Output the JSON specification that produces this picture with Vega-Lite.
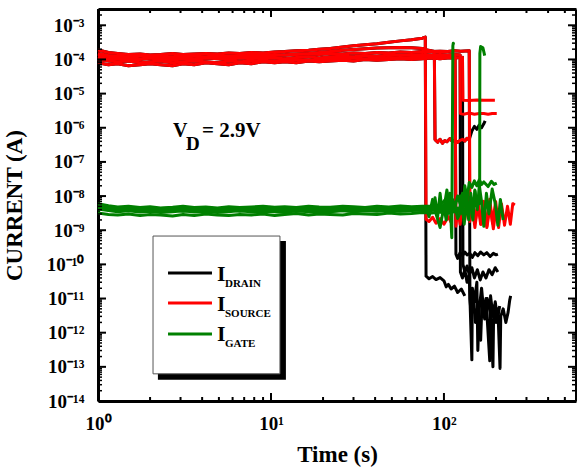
{
  "$schema": "https://vega.github.io/schema/vega-lite/v6.json",
  "width": 478,
  "height": 392,
  "autosize": {"type": "none"},
  "padding": {"left": 98, "top": 9, "right": 1, "bottom": 68},
  "background": "white",
  "config": {
    "view": {"stroke": null},
    "axis": {
      "domainColor": "black", "domainWidth": 3,
      "labelFont": "Liberation Serif", "labelFontWeight": "bold", "labelFontSize": 19, "labelColor": "black",
      "titleFont": "Liberation Serif", "titleFontWeight": "bold", "titleFontSize": 23, "titleColor": "black",
      "grid": false, "labelOverlap": false, "labelFlush": false
    }
  },
  "datasets": {
    "xmajor": [{"t":1},{"t":10},{"t":100}],
    "xminor": [
      {"t":2},{"t":3},{"t":4},{"t":5},{"t":6},{"t":7},{"t":8},{"t":9},
      {"t":20},{"t":30},{"t":40},{"t":50},{"t":60},{"t":70},{"t":80},{"t":90},
      {"t":200},{"t":300},{"t":400},{"t":500}
    ],
    "ymajor": [
      {"i":1e-14},{"i":1e-13},{"i":1e-12},{"i":1e-11},{"i":1e-10},{"i":1e-9},
      {"i":1e-8},{"i":1e-7},{"i":1e-6},{"i":1e-5},{"i":1e-4},{"i":1e-3}
    ],
    "yminor": [
      {"i":2e-14},{"i":3e-14},{"i":4e-14},{"i":5e-14},{"i":6e-14},{"i":7e-14},{"i":8e-14},{"i":9e-14},
      {"i":2e-13},{"i":3e-13},{"i":4e-13},{"i":5e-13},{"i":6e-13},{"i":7e-13},{"i":8e-13},{"i":9e-13},
      {"i":2e-12},{"i":3e-12},{"i":4e-12},{"i":5e-12},{"i":6e-12},{"i":7e-12},{"i":8e-12},{"i":9e-12},
      {"i":2e-11},{"i":3e-11},{"i":4e-11},{"i":5e-11},{"i":6e-11},{"i":7e-11},{"i":8e-11},{"i":9e-11},
      {"i":2e-10},{"i":3e-10},{"i":4e-10},{"i":5e-10},{"i":6e-10},{"i":7e-10},{"i":8e-10},{"i":9e-10},
      {"i":2e-9},{"i":3e-9},{"i":4e-9},{"i":5e-9},{"i":6e-9},{"i":7e-9},{"i":8e-9},{"i":9e-9},
      {"i":2e-8},{"i":3e-8},{"i":4e-8},{"i":5e-8},{"i":6e-8},{"i":7e-8},{"i":8e-8},{"i":9e-8},
      {"i":2e-7},{"i":3e-7},{"i":4e-7},{"i":5e-7},{"i":6e-7},{"i":7e-7},{"i":8e-7},{"i":9e-7},
      {"i":2e-6},{"i":3e-6},{"i":4e-6},{"i":5e-6},{"i":6e-6},{"i":7e-6},{"i":8e-6},{"i":9e-6},
      {"i":2e-5},{"i":3e-5},{"i":4e-5},{"i":5e-5},{"i":6e-5},{"i":7e-5},{"i":8e-5},{"i":9e-5},
      {"i":2e-4},{"i":3e-4},{"i":4e-4},{"i":5e-4},{"i":6e-4},{"i":7e-4},{"i":8e-4},{"i":9e-4},
      {"i":2e-3}
    ]
  },
  "data": {
    "values": [
      {"run":1,"t":1,"source":1.9e-4,"drain":1.9e-4,"gate":5.5e-9},
      {"run":1,"t":1.15,"source":1.6e-4,"drain":1.6e-4,"gate":4.8e-9},
      {"run":1,"t":1.3,"source":1.5e-4,"drain":1.5e-4,"gate":4.2e-9},
      {"run":1,"t":1.5,"source":1.4e-4,"drain":1.4e-4,"gate":4.5e-9},
      {"run":1,"t":1.75,"source":1.45e-4,"drain":1.45e-4,"gate":4.0e-9},
      {"run":1,"t":2,"source":1.35e-4,"drain":1.35e-4,"gate":4.3e-9},
      {"run":1,"t":2.3,"source":1.4e-4,"drain":1.4e-4,"gate":3.9e-9},
      {"run":1,"t":2.7,"source":1.5e-4,"drain":1.5e-4,"gate":4.2e-9},
      {"run":1,"t":3.1,"source":1.4e-4,"drain":1.4e-4,"gate":4.0e-9},
      {"run":1,"t":3.6,"source":1.45e-4,"drain":1.45e-4,"gate":4.4e-9},
      {"run":1,"t":4.2,"source":1.5e-4,"drain":1.5e-4,"gate":3.8e-9},
      {"run":1,"t":4.9,"source":1.45e-4,"drain":1.45e-4,"gate":4.1e-9},
      {"run":1,"t":5.7,"source":1.55e-4,"drain":1.55e-4,"gate":4.3e-9},
      {"run":1,"t":6.6,"source":1.5e-4,"drain":1.5e-4,"gate":3.9e-9},
      {"run":1,"t":7.7,"source":1.6e-4,"drain":1.6e-4,"gate":4.2e-9},
      {"run":1,"t":9,"source":1.55e-4,"drain":1.55e-4,"gate":4.0e-9},
      {"run":1,"t":10.5,"source":1.65e-4,"drain":1.65e-4,"gate":4.4e-9},
      {"run":1,"t":12,"source":1.7e-4,"drain":1.7e-4,"gate":4.1e-9},
      {"run":1,"t":14,"source":1.8e-4,"drain":1.8e-4,"gate":3.9e-9},
      {"run":1,"t":16.5,"source":1.85e-4,"drain":1.85e-4,"gate":4.3e-9},
      {"run":1,"t":19,"source":2.0e-4,"drain":2.0e-4,"gate":4.0e-9},
      {"run":1,"t":22,"source":2.1e-4,"drain":2.1e-4,"gate":4.2e-9},
      {"run":1,"t":26,"source":2.3e-4,"drain":2.3e-4,"gate":4.5e-9},
      {"run":1,"t":30,"source":2.5e-4,"drain":2.5e-4,"gate":4.1e-9},
      {"run":1,"t":35,"source":2.7e-4,"drain":2.7e-4,"gate":4.3e-9},
      {"run":1,"t":41,"source":2.9e-4,"drain":2.9e-4,"gate":4.0e-9},
      {"run":1,"t":48,"source":3.2e-4,"drain":3.2e-4,"gate":4.4e-9},
      {"run":1,"t":56,"source":3.5e-4,"drain":3.5e-4,"gate":4.2e-9},
      {"run":1,"t":65,"source":3.8e-4,"drain":3.8e-4,"gate":4.5e-9},
      {"run":1,"t":75,"source":4.2e-4,"drain":4.2e-4,"gate":4.3e-9},
      {"run":1,"t":78,"source":4.5e-4,"drain":4.5e-4,"gate":4.4e-9},
      {"run":1,"t":78.8,"source":2.1e-9,"drain":4.5e-11,"gate":5e-9},
      {"run":1,"t":82,"source":1.8e-9,"drain":3.8e-11,"gate":2.5e-9},
      {"run":1,"t":86,"source":2.4e-9,"drain":4.4e-11,"gate":8e-9},
      {"run":1,"t":90,"source":1.6e-9,"drain":3.6e-11,"gate":3e-9},
      {"run":1,"t":95,"source":2.2e-9,"drain":4.1e-11,"gate":1.2e-9},
      {"run":1,"t":100,"source":1.5e-9,"drain":3.3e-11,"gate":5e-9},
      {"run":1,"t":103,"drain":2.2e-11,"gate":2e-9},
      {"run":1,"t":106,"source":2.5e-9,"drain":2.6e-11,"gate":9e-9},
      {"run":1,"t":110,"source":1.7e-9,"drain":1.9e-11,"gate":3e-9},
      {"run":1,"t":115,"drain":2.3e-11,"gate":6e-9},
      {"run":1,"t":120,"drain":1.5e-11,"gate":2.2e-9},
      {"run":1,"t":126,"drain":1.9e-11,"gate":4e-9},
      {"run":1,"t":132,"drain":1.2e-11},

      {"run":2,"t":1,"source":1.4e-4,"drain":1.4e-4,"gate":4.2e-9},
      {"run":2,"t":1.15,"source":1.2e-4,"drain":1.2e-4,"gate":3.8e-9},
      {"run":2,"t":1.3,"source":1.1e-4,"drain":1.1e-4,"gate":3.5e-9},
      {"run":2,"t":1.5,"source":1.15e-4,"drain":1.15e-4,"gate":3.7e-9},
      {"run":2,"t":1.75,"source":1.05e-4,"drain":1.05e-4,"gate":3.4e-9},
      {"run":2,"t":2,"source":1.1e-4,"drain":1.1e-4,"gate":3.6e-9},
      {"run":2,"t":2.3,"source":1.0e-4,"drain":1.0e-4,"gate":3.3e-9},
      {"run":2,"t":2.7,"source":1.1e-4,"drain":1.1e-4,"gate":3.5e-9},
      {"run":2,"t":3.1,"source":1.15e-4,"drain":1.15e-4,"gate":3.7e-9},
      {"run":2,"t":3.6,"source":1.05e-4,"drain":1.05e-4,"gate":3.4e-9},
      {"run":2,"t":4.2,"source":1.1e-4,"drain":1.1e-4,"gate":3.6e-9},
      {"run":2,"t":4.9,"source":1.2e-4,"drain":1.2e-4,"gate":3.3e-9},
      {"run":2,"t":5.7,"source":1.1e-4,"drain":1.1e-4,"gate":3.5e-9},
      {"run":2,"t":6.6,"source":1.15e-4,"drain":1.15e-4,"gate":3.8e-9},
      {"run":2,"t":7.7,"source":1.2e-4,"drain":1.2e-4,"gate":3.4e-9},
      {"run":2,"t":9,"source":1.25e-4,"drain":1.25e-4,"gate":3.6e-9},
      {"run":2,"t":10.5,"source":1.3e-4,"drain":1.3e-4,"gate":3.5e-9},
      {"run":2,"t":12,"source":1.35e-4,"drain":1.35e-4,"gate":3.3e-9},
      {"run":2,"t":14,"source":1.45e-4,"drain":1.45e-4,"gate":3.7e-9},
      {"run":2,"t":16.5,"source":1.5e-4,"drain":1.5e-4,"gate":3.5e-9},
      {"run":2,"t":19,"source":1.6e-4,"drain":1.6e-4,"gate":3.4e-9},
      {"run":2,"t":22,"source":1.7e-4,"drain":1.7e-4,"gate":3.6e-9},
      {"run":2,"t":26,"source":1.85e-4,"drain":1.85e-4,"gate":3.8e-9},
      {"run":2,"t":30,"source":1.95e-4,"drain":1.95e-4,"gate":3.5e-9},
      {"run":2,"t":35,"source":2.05e-4,"drain":2.05e-4,"gate":3.7e-9},
      {"run":2,"t":41,"source":2.15e-4,"drain":2.15e-4,"gate":3.6e-9},
      {"run":2,"t":48,"source":2.2e-4,"drain":2.2e-4,"gate":3.9e-9},
      {"run":2,"t":56,"source":2.25e-4,"drain":2.25e-4,"gate":3.7e-9},
      {"run":2,"t":65,"source":2.2e-4,"drain":2.2e-4,"gate":3.8e-9},
      {"run":2,"t":75,"source":2.1e-4,"drain":2.1e-4,"gate":4.0e-9},
      {"run":2,"t":80,"source":1.9e-4,"drain":1.9e-4,"gate":4.1e-9},
      {"run":2,"t":84,"source":1.8e-4,"drain":1.8e-4,"gate":3.8e-9},
      {"run":2,"t":88,"source":1.7e-4,"drain":1.7e-4,"gate":4.0e-9},
      {"run":2,"t":88.8,"source":4.5e-7,"drain":4.5e-7,"gate":9e-9},
      {"run":2,"t":92,"source":3.8e-7,"drain":3.8e-7,"gate":2.5e-9},
      {"run":2,"t":95,"source":4.6e-7,"drain":4.6e-7,"gate":1.2e-8},
      {"run":2,"t":98,"source":3.5e-7,"drain":3.5e-7,"gate":3e-9},
      {"run":2,"t":101,"source":4.2e-7,"drain":4.2e-7,"gate":6e-9},
      {"run":2,"t":104,"source":3.9e-7,"drain":3.9e-7,"gate":1.5e-8},
      {"run":2,"t":108,"source":4.8e-7,"drain":4.8e-7,"gate":4e-9},
      {"run":2,"t":112,"source":4.0e-7,"drain":4.0e-7,"gate":8e-9},
      {"run":2,"t":116,"source":4.4e-7,"drain":4.4e-7,"gate":5e-9},
      {"run":2,"t":120,"source":3.7e-7,"drain":3.7e-7,"gate":1e-8},
      {"run":2,"t":124,"source":4.3e-7,"drain":4.3e-7,"gate":6e-9},
      {"run":2,"t":128,"source":4.6e-7,"drain":4.6e-7,"gate":1.2e-8},
      {"run":2,"t":132,"source":4.1e-7,"drain":4.1e-7,"gate":5e-9},
      {"run":2,"t":136,"source":4.9e-7,"drain":4.9e-7,"gate":7e-9},
      {"run":2,"t":140,"source":4.5e-7,"drain":4.5e-7,"gate":4.5e-9},
      {"run":2,"t":145,"drain":8e-7},
      {"run":2,"t":150,"drain":1.1e-6},
      {"run":2,"t":155,"drain":9e-7},
      {"run":2,"t":160,"drain":1.2e-6},
      {"run":2,"t":165,"drain":1.0e-6},
      {"run":2,"t":170,"drain":1.3e-6},
      {"run":2,"t":173,"drain":1.6e-6},

      {"run":3,"t":1,"source":1.0e-4,"drain":1.0e-4,"gate":6.0e-9},
      {"run":3,"t":1.15,"source":0.9e-4,"drain":0.9e-4,"gate":5.2e-9},
      {"run":3,"t":1.3,"source":0.85e-4,"drain":0.85e-4,"gate":4.8e-9},
      {"run":3,"t":1.5,"source":0.9e-4,"drain":0.9e-4,"gate":5.0e-9},
      {"run":3,"t":1.75,"source":0.8e-4,"drain":0.8e-4,"gate":4.6e-9},
      {"run":3,"t":2,"source":0.85e-4,"drain":0.85e-4,"gate":4.9e-9},
      {"run":3,"t":2.3,"source":0.9e-4,"drain":0.9e-4,"gate":4.5e-9},
      {"run":3,"t":2.7,"source":0.8e-4,"drain":0.8e-4,"gate":4.7e-9},
      {"run":3,"t":3.1,"source":0.85e-4,"drain":0.85e-4,"gate":5.0e-9},
      {"run":3,"t":3.6,"source":0.9e-4,"drain":0.9e-4,"gate":4.6e-9},
      {"run":3,"t":4.2,"source":0.85e-4,"drain":0.85e-4,"gate":4.8e-9},
      {"run":3,"t":4.9,"source":0.8e-4,"drain":0.8e-4,"gate":4.5e-9},
      {"run":3,"t":5.7,"source":0.9e-4,"drain":0.9e-4,"gate":4.9e-9},
      {"run":3,"t":6.6,"source":0.85e-4,"drain":0.85e-4,"gate":4.6e-9},
      {"run":3,"t":7.7,"source":0.9e-4,"drain":0.9e-4,"gate":4.8e-9},
      {"run":3,"t":9,"source":0.95e-4,"drain":0.95e-4,"gate":5.0e-9},
      {"run":3,"t":10.5,"source":0.9e-4,"drain":0.9e-4,"gate":4.7e-9},
      {"run":3,"t":12,"source":0.95e-4,"drain":0.95e-4,"gate":4.9e-9},
      {"run":3,"t":14,"source":1.0e-4,"drain":1.0e-4,"gate":4.6e-9},
      {"run":3,"t":16.5,"source":0.95e-4,"drain":0.95e-4,"gate":5.0e-9},
      {"run":3,"t":19,"source":1.0e-4,"drain":1.0e-4,"gate":4.8e-9},
      {"run":3,"t":22,"source":1.05e-4,"drain":1.05e-4,"gate":4.7e-9},
      {"run":3,"t":26,"source":1.0e-4,"drain":1.0e-4,"gate":5.0e-9},
      {"run":3,"t":30,"source":1.1e-4,"drain":1.1e-4,"gate":4.9e-9},
      {"run":3,"t":35,"source":1.05e-4,"drain":1.05e-4,"gate":4.6e-9},
      {"run":3,"t":41,"source":1.1e-4,"drain":1.1e-4,"gate":5.0e-9},
      {"run":3,"t":48,"source":1.15e-4,"drain":1.15e-4,"gate":4.8e-9},
      {"run":3,"t":56,"source":1.1e-4,"drain":1.1e-4,"gate":5.1e-9},
      {"run":3,"t":65,"source":1.15e-4,"drain":1.15e-4,"gate":4.9e-9},
      {"run":3,"t":75,"source":1.2e-4,"drain":1.2e-4,"gate":5.0e-9},
      {"run":3,"t":85,"source":1.15e-4,"drain":1.15e-4,"gate":5.0e-9},
      {"run":3,"t":95,"source":1.2e-4,"drain":1.2e-4,"gate":5.3e-9},
      {"run":3,"t":102,"gate":8e-9},
      {"run":3,"t":105,"source":1.15e-4,"drain":1.15e-4,"gate":3e-9},
      {"run":3,"t":108,"gate":1.2e-8},
      {"run":3,"t":111,"gate":6e-10},
      {"run":3,"t":112.6,"gate":2.5e-4},
      {"run":3,"t":113.2,"gate":3.0e-4},
      {"run":3,"t":113.8,"gate":2.7e-4},
      {"run":3,"t":116,"source":1.2e-4,"drain":1.2e-4},
      {"run":3,"t":117.3,"source":1.3e-9,"drain":2.0e-10},
      {"run":3,"t":120,"source":4e-9,"drain":1.5e-10},
      {"run":3,"t":124,"source":1.5e-9,"drain":2.2e-10},
      {"run":3,"t":128,"source":6e-9,"drain":1.8e-10},
      {"run":3,"t":132,"source":2e-9,"drain":2.3e-10},
      {"run":3,"t":136,"source":7e-9,"drain":1.9e-10},
      {"run":3,"t":141,"source":1.8e-9,"drain":2.1e-10},
      {"run":3,"t":146,"source":5e-9,"drain":1.6e-10},
      {"run":3,"t":151,"source":1.2e-9,"drain":2.2e-10},
      {"run":3,"t":157,"source":6e-9,"drain":1.8e-10},
      {"run":3,"t":163,"source":1.5e-9,"drain":2.3e-10},
      {"run":3,"t":170,"source":7e-9,"drain":1.9e-10},
      {"run":3,"t":177,"source":1.2e-9,"drain":2.2e-10},
      {"run":3,"t":185,"source":5e-9,"drain":1.7e-10},
      {"run":3,"t":193,"source":1.1e-9,"drain":2.1e-10},
      {"run":3,"t":200,"source":4e-9,"drain":1.9e-10},
      {"run":3,"t":205,"drain":2.0e-10},

      {"run":4,"t":1,"source":1.2e-4,"drain":1.2e-4,"gate":3.2e-9},
      {"run":4,"t":1.15,"source":1.0e-4,"drain":1.0e-4,"gate":2.9e-9},
      {"run":4,"t":1.3,"source":1.05e-4,"drain":1.05e-4,"gate":2.8e-9},
      {"run":4,"t":1.5,"source":0.95e-4,"drain":0.95e-4,"gate":3.0e-9},
      {"run":4,"t":1.75,"source":1.0e-4,"drain":1.0e-4,"gate":2.7e-9},
      {"run":4,"t":2,"source":1.1e-4,"drain":1.1e-4,"gate":2.9e-9},
      {"run":4,"t":2.3,"source":1.0e-4,"drain":1.0e-4,"gate":2.8e-9},
      {"run":4,"t":2.7,"source":0.95e-4,"drain":0.95e-4,"gate":2.6e-9},
      {"run":4,"t":3.1,"source":1.05e-4,"drain":1.05e-4,"gate":2.9e-9},
      {"run":4,"t":3.6,"source":1.0e-4,"drain":1.0e-4,"gate":2.7e-9},
      {"run":4,"t":4.2,"source":1.1e-4,"drain":1.1e-4,"gate":3.0e-9},
      {"run":4,"t":4.9,"source":1.05e-4,"drain":1.05e-4,"gate":2.8e-9},
      {"run":4,"t":5.7,"source":1.0e-4,"drain":1.0e-4,"gate":2.7e-9},
      {"run":4,"t":6.6,"source":1.1e-4,"drain":1.1e-4,"gate":2.9e-9},
      {"run":4,"t":7.7,"source":1.05e-4,"drain":1.05e-4,"gate":2.8e-9},
      {"run":4,"t":9,"source":1.15e-4,"drain":1.15e-4,"gate":3.0e-9},
      {"run":4,"t":10.5,"source":1.1e-4,"drain":1.1e-4,"gate":2.7e-9},
      {"run":4,"t":12,"source":1.05e-4,"drain":1.05e-4,"gate":2.9e-9},
      {"run":4,"t":14,"source":1.15e-4,"drain":1.15e-4,"gate":3.1e-9},
      {"run":4,"t":16.5,"source":1.2e-4,"drain":1.2e-4,"gate":2.8e-9},
      {"run":4,"t":19,"source":1.1e-4,"drain":1.1e-4,"gate":3.0e-9},
      {"run":4,"t":22,"source":1.2e-4,"drain":1.2e-4,"gate":2.9e-9},
      {"run":4,"t":26,"source":1.25e-4,"drain":1.25e-4,"gate":2.8e-9},
      {"run":4,"t":30,"source":1.2e-4,"drain":1.2e-4,"gate":3.1e-9},
      {"run":4,"t":35,"source":1.3e-4,"drain":1.3e-4,"gate":3.0e-9},
      {"run":4,"t":41,"source":1.25e-4,"drain":1.25e-4,"gate":2.9e-9},
      {"run":4,"t":48,"source":1.35e-4,"drain":1.35e-4,"gate":3.2e-9},
      {"run":4,"t":56,"source":1.3e-4,"drain":1.3e-4,"gate":3.0e-9},
      {"run":4,"t":65,"source":1.35e-4,"drain":1.35e-4,"gate":3.1e-9},
      {"run":4,"t":75,"source":1.4e-4,"drain":1.4e-4,"gate":3.3e-9},
      {"run":4,"t":85,"source":1.35e-4,"drain":1.35e-4,"gate":3.2e-9},
      {"run":4,"t":95,"source":1.4e-4,"drain":1.4e-4,"gate":3.4e-9},
      {"run":4,"t":105,"source":1.35e-4,"drain":1.35e-4,"gate":3.3e-9},
      {"run":4,"t":115,"source":1.4e-4,"drain":1.4e-4,"gate":3.5e-9},
      {"run":4,"t":124,"source":1.35e-4,"drain":1.35e-4,"gate":3.6e-9},
      {"run":4,"t":124.5,"source":2.6e-6,"drain":6e-11,"gate":1e-8},
      {"run":4,"t":128,"drain":4e-11,"gate":3e-9},
      {"run":4,"t":130,"source":2.5e-6},
      {"run":4,"t":132,"drain":7e-11,"gate":2e-8},
      {"run":4,"t":136,"drain":3e-11,"gate":8e-9},
      {"run":4,"t":140,"source":2.7e-6,"drain":5e-11,"gate":2.5e-8},
      {"run":4,"t":145,"drain":1.6e-13,"gate":1.8e-8},
      {"run":4,"t":146,"drain":2e-11},
      {"run":4,"t":150,"source":2.5e-6,"drain":8e-12,"gate":2.8e-8},
      {"run":4,"t":155,"drain":3e-11,"gate":2e-8},
      {"run":4,"t":157,"drain":3e-13},
      {"run":4,"t":160,"source":2.6e-6,"drain":5e-12,"gate":3e-8},
      {"run":4,"t":165,"drain":2e-11,"gate":2.2e-8},
      {"run":4,"t":170,"source":2.6e-6,"drain":4e-12,"gate":2.6e-8},
      {"run":4,"t":175,"drain":1e-11},
      {"run":4,"t":180,"source":2.5e-6,"gate":1.9e-8},
      {"run":4,"t":184,"drain":1.5e-13},
      {"run":4,"t":186,"drain":1.2e-11},
      {"run":4,"t":188,"gate":2.7e-8},
      {"run":4,"t":190,"source":2.6e-6},
      {"run":4,"t":192,"drain":3e-12},
      {"run":4,"t":195,"gate":2.2e-8},
      {"run":4,"t":198,"drain":8e-12},
      {"run":4,"t":202,"source":2.6e-6,"gate":2.4e-8},
      {"run":4,"t":204,"drain":2.5e-12},
      {"run":4,"t":210,"drain":6e-12},

      {"run":5,"t":1,"source":0.8e-4,"drain":0.8e-4,"gate":5.0e-9},
      {"run":5,"t":1.15,"source":0.7e-4,"drain":0.7e-4,"gate":4.4e-9},
      {"run":5,"t":1.3,"source":0.75e-4,"drain":0.75e-4,"gate":4.6e-9},
      {"run":5,"t":1.5,"source":0.65e-4,"drain":0.65e-4,"gate":4.1e-9},
      {"run":5,"t":1.75,"source":0.7e-4,"drain":0.7e-4,"gate":4.4e-9},
      {"run":5,"t":2,"source":0.75e-4,"drain":0.75e-4,"gate":4.0e-9},
      {"run":5,"t":2.3,"source":0.7e-4,"drain":0.7e-4,"gate":4.3e-9},
      {"run":5,"t":2.7,"source":0.65e-4,"drain":0.65e-4,"gate":4.5e-9},
      {"run":5,"t":3.1,"source":0.75e-4,"drain":0.75e-4,"gate":4.1e-9},
      {"run":5,"t":3.6,"source":0.7e-4,"drain":0.7e-4,"gate":4.3e-9},
      {"run":5,"t":4.2,"source":0.8e-4,"drain":0.8e-4,"gate":4.6e-9},
      {"run":5,"t":4.9,"source":0.75e-4,"drain":0.75e-4,"gate":4.2e-9},
      {"run":5,"t":5.7,"source":0.7e-4,"drain":0.7e-4,"gate":4.4e-9},
      {"run":5,"t":6.6,"source":0.8e-4,"drain":0.8e-4,"gate":4.1e-9},
      {"run":5,"t":7.7,"source":0.75e-4,"drain":0.75e-4,"gate":4.5e-9},
      {"run":5,"t":9,"source":0.85e-4,"drain":0.85e-4,"gate":4.3e-9},
      {"run":5,"t":10.5,"source":0.8e-4,"drain":0.8e-4,"gate":4.0e-9},
      {"run":5,"t":12,"source":0.85e-4,"drain":0.85e-4,"gate":4.4e-9},
      {"run":5,"t":14,"source":0.8e-4,"drain":0.8e-4,"gate":4.2e-9},
      {"run":5,"t":16.5,"source":0.9e-4,"drain":0.9e-4,"gate":4.5e-9},
      {"run":5,"t":19,"source":0.85e-4,"drain":0.85e-4,"gate":4.3e-9},
      {"run":5,"t":22,"source":0.9e-4,"drain":0.9e-4,"gate":4.1e-9},
      {"run":5,"t":26,"source":0.95e-4,"drain":0.95e-4,"gate":4.4e-9},
      {"run":5,"t":30,"source":0.9e-4,"drain":0.9e-4,"gate":4.6e-9},
      {"run":5,"t":35,"source":1.0e-4,"drain":1.0e-4,"gate":4.2e-9},
      {"run":5,"t":41,"source":0.95e-4,"drain":0.95e-4,"gate":4.4e-9},
      {"run":5,"t":48,"source":1.0e-4,"drain":1.0e-4,"gate":4.5e-9},
      {"run":5,"t":56,"source":1.05e-4,"drain":1.05e-4,"gate":4.3e-9},
      {"run":5,"t":65,"source":1.0e-4,"drain":1.0e-4,"gate":4.6e-9},
      {"run":5,"t":75,"source":1.05e-4,"drain":1.05e-4,"gate":4.4e-9},
      {"run":5,"t":85,"source":1.1e-4,"drain":1.1e-4,"gate":4.5e-9},
      {"run":5,"t":95,"source":1.05e-4,"drain":1.05e-4,"gate":4.3e-9},
      {"run":5,"t":105,"source":1.1e-4,"drain":1.1e-4,"gate":4.6e-9},
      {"run":5,"t":115,"source":1.1e-4,"drain":1.1e-4,"gate":4.4e-9},
      {"run":5,"t":128,"source":1.15e-4,"drain":1.15e-4,"gate":4.5e-9},
      {"run":5,"t":128.8,"source":6.4e-6,"drain":1e-10},
      {"run":5,"t":131,"gate":1.5e-9},
      {"run":5,"t":132,"drain":6e-11},
      {"run":5,"t":135,"gate":8e-9},
      {"run":5,"t":136,"drain":9e-11},
      {"run":5,"t":139,"gate":2e-9},
      {"run":5,"t":140,"source":6.3e-6,"drain":5e-11},
      {"run":5,"t":143,"gate":1.2e-8},
      {"run":5,"t":145,"drain":8e-11},
      {"run":5,"t":147,"gate":3e-9},
      {"run":5,"t":150,"drain":4e-11},
      {"run":5,"t":151,"gate":1.5e-8},
      {"run":5,"t":155,"source":6.5e-6,"gate":5e-9},
      {"run":5,"t":156,"drain":7e-11},
      {"run":5,"t":158,"gate":9e-9},
      {"run":5,"t":160.8,"gate":6e-9},
      {"run":5,"t":161.3,"gate":1.5e-4},
      {"run":5,"t":162,"drain":3.5e-11},
      {"run":5,"t":163,"gate":2.4e-4},
      {"run":5,"t":168,"drain":6e-11,"gate":2.2e-4},
      {"run":5,"t":170,"source":6.4e-6},
      {"run":5,"t":172,"gate":1.3e-4},
      {"run":5,"t":175,"drain":4e-11},
      {"run":5,"t":182,"drain":7e-11},
      {"run":5,"t":185,"source":6.4e-6},
      {"run":5,"t":190,"drain":5e-11},
      {"run":5,"t":197,"source":6.4e-6},
      {"run":5,"t":198,"drain":8e-11},
      {"run":5,"t":205,"drain":6e-11},

      {"run":6,"t":1,"source":1.5e-4,"drain":1.5e-4,"gate":4.6e-9},
      {"run":6,"t":1.15,"source":1.3e-4,"drain":1.3e-4,"gate":4.0e-9},
      {"run":6,"t":1.3,"source":1.25e-4,"drain":1.25e-4,"gate":3.7e-9},
      {"run":6,"t":1.5,"source":1.2e-4,"drain":1.2e-4,"gate":3.9e-9},
      {"run":6,"t":1.75,"source":1.3e-4,"drain":1.3e-4,"gate":3.6e-9},
      {"run":6,"t":2,"source":1.2e-4,"drain":1.2e-4,"gate":3.8e-9},
      {"run":6,"t":2.3,"source":1.25e-4,"drain":1.25e-4,"gate":3.5e-9},
      {"run":6,"t":2.7,"source":1.2e-4,"drain":1.2e-4,"gate":3.9e-9},
      {"run":6,"t":3.1,"source":1.3e-4,"drain":1.3e-4,"gate":3.6e-9},
      {"run":6,"t":3.6,"source":1.25e-4,"drain":1.25e-4,"gate":3.8e-9},
      {"run":6,"t":4.2,"source":1.2e-4,"drain":1.2e-4,"gate":3.5e-9},
      {"run":6,"t":4.9,"source":1.3e-4,"drain":1.3e-4,"gate":3.7e-9},
      {"run":6,"t":5.7,"source":1.25e-4,"drain":1.25e-4,"gate":3.9e-9},
      {"run":6,"t":6.6,"source":1.3e-4,"drain":1.3e-4,"gate":3.6e-9},
      {"run":6,"t":7.7,"source":1.35e-4,"drain":1.35e-4,"gate":3.8e-9},
      {"run":6,"t":9,"source":1.3e-4,"drain":1.3e-4,"gate":3.5e-9},
      {"run":6,"t":10.5,"source":1.4e-4,"drain":1.4e-4,"gate":3.7e-9},
      {"run":6,"t":12,"source":1.35e-4,"drain":1.35e-4,"gate":3.9e-9},
      {"run":6,"t":14,"source":1.4e-4,"drain":1.4e-4,"gate":3.6e-9},
      {"run":6,"t":16.5,"source":1.45e-4,"drain":1.45e-4,"gate":3.8e-9},
      {"run":6,"t":19,"source":1.4e-4,"drain":1.4e-4,"gate":3.7e-9},
      {"run":6,"t":22,"source":1.5e-4,"drain":1.5e-4,"gate":3.5e-9},
      {"run":6,"t":26,"source":1.45e-4,"drain":1.45e-4,"gate":3.8e-9},
      {"run":6,"t":30,"source":1.55e-4,"drain":1.55e-4,"gate":3.6e-9},
      {"run":6,"t":35,"source":1.5e-4,"drain":1.5e-4,"gate":3.9e-9},
      {"run":6,"t":41,"source":1.6e-4,"drain":1.6e-4,"gate":3.7e-9},
      {"run":6,"t":48,"source":1.55e-4,"drain":1.55e-4,"gate":3.8e-9},
      {"run":6,"t":56,"source":1.65e-4,"drain":1.65e-4,"gate":3.6e-9},
      {"run":6,"t":65,"source":1.6e-4,"drain":1.6e-4,"gate":3.9e-9},
      {"run":6,"t":75,"source":1.7e-4,"drain":1.7e-4,"gate":3.8e-9},
      {"run":6,"t":85,"source":1.7e-4,"drain":1.7e-4,"gate":3.9e-9},
      {"run":6,"t":95,"source":1.75e-4,"drain":1.75e-4,"gate":4.0e-9},
      {"run":6,"t":105,"source":1.7e-4,"drain":1.7e-4,"gate":3.8e-9},
      {"run":6,"t":115,"source":1.8e-4,"drain":1.8e-4,"gate":4.1e-9},
      {"run":6,"t":125,"source":1.75e-4,"drain":1.75e-4,"gate":4.0e-9},
      {"run":6,"t":140,"source":1.8e-4,"drain":1.8e-4,"gate":4.2e-9},
      {"run":6,"t":141.3,"source":3e-9,"drain":1e-11,"gate":9e-9},
      {"run":6,"t":144,"drain":3e-12},
      {"run":6,"t":146,"source":8e-9},
      {"run":6,"t":147,"gate":2e-9},
      {"run":6,"t":148,"drain":1.2e-11},
      {"run":6,"t":151,"gate":1.4e-8},
      {"run":6,"t":152,"source":2e-9,"drain":2e-12},
      {"run":6,"t":156,"drain":5e-12,"gate":4e-9},
      {"run":6,"t":158,"source":7e-9},
      {"run":6,"t":160,"drain":1.5e-12,"gate":2e-8},
      {"run":6,"t":163,"drain":6e-13},
      {"run":6,"t":164,"source":1.5e-9},
      {"run":6,"t":165,"gate":7e-9},
      {"run":6,"t":166,"drain":8e-12},
      {"run":6,"t":170,"source":6e-9,"gate":1.3e-9},
      {"run":6,"t":172,"drain":2.5e-12},
      {"run":6,"t":176,"gate":1.2e-8},
      {"run":6,"t":177,"source":1.3e-9},
      {"run":6,"t":178,"drain":1e-11},
      {"run":6,"t":182,"gate":3e-9},
      {"run":6,"t":184,"source":8e-9},
      {"run":6,"t":185,"drain":4e-12},
      {"run":6,"t":190,"gate":1.6e-8},
      {"run":6,"t":191,"source":1.6e-9},
      {"run":6,"t":192,"drain":1e-13},
      {"run":6,"t":194,"drain":6e-12},
      {"run":6,"t":198,"gate":6e-9},
      {"run":6,"t":199,"source":7e-9},
      {"run":6,"t":200,"drain":2e-12},
      {"run":6,"t":205,"drain":5e-12,"gate":1.4e-9},
      {"run":6,"t":207,"source":1.2e-9},
      {"run":6,"t":211,"drain":9e-14},
      {"run":6,"t":212,"gate":8e-9},
      {"run":6,"t":213,"drain":3e-12},
      {"run":6,"t":215,"source":6e-9},
      {"run":6,"t":220,"drain":5e-12,"gate":2e-9},
      {"run":6,"t":224,"source":1.4e-9},
      {"run":6,"t":228,"drain":2e-12},
      {"run":6,"t":233,"source":5e-9},
      {"run":6,"t":235,"drain":4e-12},
      {"run":6,"t":240,"drain":9e-12},
      {"run":6,"t":242,"source":1.5e-9},
      {"run":6,"t":243,"drain":1.2e-11},
      {"run":6,"t":250,"source":6e-9},
      {"run":6,"t":257,"source":5.5e-9}
    ]
  },
  "layer": [
    {
      "transform": [{"filter": "isValid(datum.drain)"}],
      "mark": {"type": "line", "color": "black", "strokeWidth": 3, "strokeJoin": "round"},
      "encoding": {
        "x": {
          "field": "t", "type": "quantitative",
          "scale": {"type": "log", "domain": [1, 580], "nice": false},
          "axis": {
            "orient": "bottom", "title": "Time (s)", "values": [1, 10, 100], "ticks": false,
            "labelPadding": 13, "titlePadding": 10,
            "labelExpr": "'10' + ['⁰','¹','²','³'][round(log(datum.value)/LN10)]"
          }
        },
        "y": {
          "field": "drain", "type": "quantitative",
          "scale": {"type": "log", "domain": [1e-14, 3e-3], "nice": false},
          "axis": {
            "orient": "left", "title": "CURRENT (A)", "ticks": false,
            "values": [1e-14, 1e-13, 1e-12, 1e-11, 1e-10, 1e-9, 1e-8, 1e-7, 1e-6, 1e-5, 1e-4, 1e-3],
            "labelPadding": 14, "titlePadding": 20,
            "labelExpr": "'10⁻' + (round(-log(datum.value)/LN10) >= 10 ? '¹' : '') + ['⁰','¹','²','³','⁴','⁵','⁶','⁷','⁸','⁹'][round(-log(datum.value)/LN10) % 10]"
          }
        },
        "detail": {"field": "run", "type": "nominal"}
      }
    },
    {
      "transform": [{"filter": "isValid(datum.source)"}],
      "mark": {"type": "line", "color": "#ff0000", "strokeWidth": 3, "strokeJoin": "round"},
      "encoding": {
        "x": {"field": "t", "type": "quantitative", "axis": null},
        "y": {"field": "source", "type": "quantitative", "axis": null},
        "detail": {"field": "run", "type": "nominal"}
      }
    },
    {
      "transform": [{"filter": "isValid(datum.gate)"}],
      "mark": {"type": "line", "color": "#008000", "strokeWidth": 3, "strokeJoin": "round"},
      "encoding": {
        "x": {"field": "t", "type": "quantitative", "axis": null},
        "y": {"field": "gate", "type": "quantitative", "axis": null},
        "detail": {"field": "run", "type": "nominal"}
      }
    },
    {
      "data": {"name": "xmajor"},
      "mark": {"type": "rule", "color": "black", "strokeWidth": 2, "y2Offset": -8},
      "encoding": {"x": {"field": "t", "type": "quantitative", "axis": null}, "y": {"datum": 1e-14, "type": "quantitative", "axis": null}, "y2": {"datum": 1e-14}}
    },
    {
      "data": {"name": "xmajor"},
      "mark": {"type": "rule", "color": "black", "strokeWidth": 2, "y2Offset": 8},
      "encoding": {"x": {"field": "t", "type": "quantitative", "axis": null}, "y": {"datum": 3e-3, "type": "quantitative", "axis": null}, "y2": {"datum": 3e-3}}
    },
    {
      "data": {"name": "xminor"},
      "mark": {"type": "rule", "color": "black", "strokeWidth": 2, "y2Offset": -4},
      "encoding": {"x": {"field": "t", "type": "quantitative", "axis": null}, "y": {"datum": 1e-14, "type": "quantitative", "axis": null}, "y2": {"datum": 1e-14}}
    },
    {
      "data": {"name": "xminor"},
      "mark": {"type": "rule", "color": "black", "strokeWidth": 2, "y2Offset": 4},
      "encoding": {"x": {"field": "t", "type": "quantitative", "axis": null}, "y": {"datum": 3e-3, "type": "quantitative", "axis": null}, "y2": {"datum": 3e-3}}
    },
    {
      "data": {"name": "ymajor"},
      "mark": {"type": "rule", "color": "black", "strokeWidth": 2, "x2Offset": 8},
      "encoding": {"y": {"field": "i", "type": "quantitative", "axis": null}, "x": {"datum": 1, "type": "quantitative", "axis": null}, "x2": {"datum": 1}}
    },
    {
      "data": {"name": "ymajor"},
      "mark": {"type": "rule", "color": "black", "strokeWidth": 2, "x2Offset": -8},
      "encoding": {"y": {"field": "i", "type": "quantitative", "axis": null}, "x": {"datum": 580, "type": "quantitative", "axis": null}, "x2": {"datum": 580}}
    },
    {
      "data": {"name": "yminor"},
      "mark": {"type": "rule", "color": "black", "strokeWidth": 1.5, "x2Offset": 4},
      "encoding": {"y": {"field": "i", "type": "quantitative", "axis": null}, "x": {"datum": 1, "type": "quantitative", "axis": null}, "x2": {"datum": 1}}
    },
    {
      "data": {"name": "yminor"},
      "mark": {"type": "rule", "color": "black", "strokeWidth": 1.5, "x2Offset": -4},
      "encoding": {"y": {"field": "i", "type": "quantitative", "axis": null}, "x": {"datum": 580, "type": "quantitative", "axis": null}, "x2": {"datum": 580}}
    },
    {
      "data": {"values": [{}]},
      "mark": {"type": "text", "text": "V", "align": "left", "baseline": "alphabetic", "font": "Liberation Serif", "fontWeight": "bold", "fontSize": 20, "color": "black"},
      "encoding": {"x": {"datum": 2.71, "type": "quantitative", "axis": null}, "y": {"datum": 5.3e-7, "type": "quantitative", "axis": null}}
    },
    {
      "data": {"values": [{}]},
      "mark": {"type": "text", "text": "D", "align": "left", "baseline": "alphabetic", "font": "Liberation Serif", "fontWeight": "bold", "fontSize": 19, "color": "black"},
      "encoding": {"x": {"datum": 3.23, "type": "quantitative", "axis": null}, "y": {"datum": 2.2e-7, "type": "quantitative", "axis": null}}
    },
    {
      "data": {"values": [{}]},
      "mark": {"type": "text", "text": "= 2.9V", "align": "left", "baseline": "alphabetic", "font": "Liberation Serif", "fontWeight": "bold", "fontSize": 21, "color": "black"},
      "encoding": {"x": {"datum": 3.99, "type": "quantitative", "axis": null}, "y": {"datum": 5.3e-7, "type": "quantitative", "axis": null}}
    },
    {
      "data": {"values": [{}]},
      "mark": {"type": "rect", "color": "black"},
      "encoding": {
        "x": {"datum": 2.22, "type": "quantitative", "axis": null}, "x2": {"datum": 12.2},
        "y": {"datum": 4.83e-10, "type": "quantitative", "axis": null}, "y2": {"datum": 4.17e-14}
      }
    },
    {
      "data": {"values": [{}]},
      "mark": {"type": "rect", "fill": "white", "stroke": "#555555", "strokeWidth": 1},
      "encoding": {
        "x": {"datum": 2.08, "type": "quantitative", "axis": null}, "x2": {"datum": 11.27},
        "y": {"datum": 6.76e-10, "type": "quantitative", "axis": null}, "y2": {"datum": 6.24e-14}
      }
    },
    {
      "data": {"values": [{}]},
      "mark": {"type": "rule", "color": "black", "strokeWidth": 3},
      "encoding": {"x": {"datum": 2.54, "type": "quantitative", "axis": null}, "x2": {"datum": 4.56}, "y": {"datum": 5.6e-11, "type": "quantitative", "axis": null}}
    },
    {
      "data": {"values": [{}]},
      "mark": {"type": "rule", "color": "#ff0000", "strokeWidth": 3},
      "encoding": {"x": {"datum": 2.54, "type": "quantitative", "axis": null}, "x2": {"datum": 4.56}, "y": {"datum": 7.4e-12, "type": "quantitative", "axis": null}}
    },
    {
      "data": {"values": [{}]},
      "mark": {"type": "rule", "color": "#008000", "strokeWidth": 3},
      "encoding": {"x": {"datum": 2.54, "type": "quantitative", "axis": null}, "x2": {"datum": 4.56}, "y": {"datum": 9.2e-13, "type": "quantitative", "axis": null}}
    },
    {
      "data": {"values": [{}]},
      "mark": {"type": "text", "text": "I", "align": "left", "baseline": "alphabetic", "font": "Liberation Serif", "fontWeight": "bold", "fontSize": 22, "color": "black"},
      "encoding": {"x": {"datum": 4.87, "type": "quantitative", "axis": null}, "y": {"datum": 3.27e-11, "type": "quantitative", "axis": null}}
    },
    {
      "data": {"values": [{}]},
      "mark": {"type": "text", "text": "I", "align": "left", "baseline": "alphabetic", "font": "Liberation Serif", "fontWeight": "bold", "fontSize": 22, "color": "black"},
      "encoding": {"x": {"datum": 4.87, "type": "quantitative", "axis": null}, "y": {"datum": 4.33e-12, "type": "quantitative", "axis": null}}
    },
    {
      "data": {"values": [{}]},
      "mark": {"type": "text", "text": "I", "align": "left", "baseline": "alphabetic", "font": "Liberation Serif", "fontWeight": "bold", "fontSize": 22, "color": "black"},
      "encoding": {"x": {"datum": 4.87, "type": "quantitative", "axis": null}, "y": {"datum": 5.75e-13, "type": "quantitative", "axis": null}}
    },
    {
      "data": {"values": [{}]},
      "mark": {"type": "text", "text": "DRAIN", "align": "left", "baseline": "alphabetic", "font": "Liberation Serif", "fontWeight": "bold", "fontSize": 11, "color": "black"},
      "encoding": {"x": {"datum": 5.42, "type": "quantitative", "axis": null}, "y": {"datum": 2.19e-11, "type": "quantitative", "axis": null}}
    },
    {
      "data": {"values": [{}]},
      "mark": {"type": "text", "text": "SOURCE", "align": "left", "baseline": "alphabetic", "font": "Liberation Serif", "fontWeight": "bold", "fontSize": 11, "color": "black"},
      "encoding": {"x": {"datum": 5.42, "type": "quantitative", "axis": null}, "y": {"datum": 2.9e-12, "type": "quantitative", "axis": null}}
    },
    {
      "data": {"values": [{}]},
      "mark": {"type": "text", "text": "GATE", "align": "left", "baseline": "alphabetic", "font": "Liberation Serif", "fontWeight": "bold", "fontSize": 11, "color": "black"},
      "encoding": {"x": {"datum": 5.42, "type": "quantitative", "axis": null}, "y": {"datum": 3.85e-13, "type": "quantitative", "axis": null}}
    },
    {
      "data": {"values": [{}]},
      "mark": {"type": "point", "opacity": 0},
      "encoding": {
        "x": {"datum": 10, "type": "quantitative", "axis": {"orient": "top", "ticks": false, "labels": false, "title": null}},
        "y": {"datum": 1e-6, "type": "quantitative", "axis": {"orient": "right", "ticks": false, "labels": false, "title": null}}
      }
    }
  ],
  "resolve": {"axis": {"x": "independent", "y": "independent"}}
}
